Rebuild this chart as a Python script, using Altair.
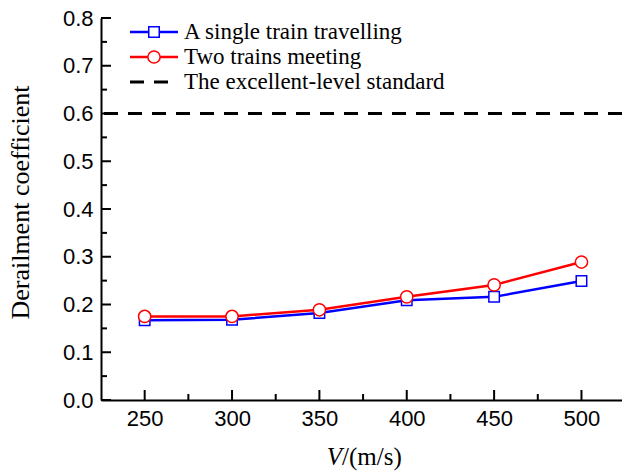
import altair as alt
import pandas as pd

# ---- data ----
speeds = [250, 300, 350, 400, 450, 500]
single_train = [0.167, 0.168, 0.182, 0.209, 0.216, 0.249]
two_trains = [0.175, 0.175, 0.189, 0.216, 0.241, 0.289]
standard_value = [0.6]
series_names = ["A single train travelling", "Two trains meeting", "The excellent-level standard"]
x_major = [250, 300, 350, 400, 450, 500]
x_minor = [275, 325, 375, 425, 475]
y_major = [0.0, 0.1, 0.2, 0.3, 0.4, 0.5, 0.6, 0.7, 0.8]
y_minor = [0.05, 0.15, 0.25, 0.35, 0.45, 0.55, 0.65, 0.75]

W, H = 521, 382
BLUE, RED = "#0000FF", "#FF0000"
SERIF, SANS = "Liberation Serif", "Liberation Sans"

xs = alt.Scale(domain=[225, 523.2], nice=False, zero=False)
ys = alt.Scale(domain=[0, 0.8], nice=False, zero=False)

xaxis = alt.Axis(values=x_major, ticks=False, tickSize=0, grid=False, domainColor="black",
                 domainWidth=2, labelFont=SANS, labelFontSize=22, labelColor="black",
                 labelPadding=8, labelFlush=False, labelOverlap=False, format="d", title=None)
yaxis = alt.Axis(values=y_major, ticks=False, tickSize=0, grid=False, domainColor="black",
                 domainWidth=2, labelFont=SANS, labelFontSize=22, labelColor="black",
                 labelPadding=8, labelFlush=False, labelOverlap=False, format=".1f",
                 title="Derailment coefficient", titleFont=SERIF, titleFontSize=26,
                 titleFontWeight="normal", titleColor="black", titleAngle=270,
                 titleX=-73, titleY=184, titleAlign="center", titleBaseline="alphabetic")

def X(field):
    return alt.X(field, type="quantitative", scale=xs, axis=xaxis)

def Y(field):
    return alt.Y(field, type="quantitative", scale=ys, axis=yaxis)

d_single = pd.DataFrame({"V": speeds, "coef": single_train})
d_two = pd.DataFrame({"V": speeds, "coef": two_trains})
d_std = pd.DataFrame({"coef": standard_value})

std_rule = alt.Chart(d_std).mark_rule(color="black", strokeWidth=3, strokeDash=[14, 10]).encode(
    y=Y("coef"))

line_single = alt.Chart(d_single).mark_line(color=BLUE, strokeWidth=2.5).encode(x=X("V"), y=Y("coef"))
pts_single = alt.Chart(d_single).mark_point(shape="square", filled=True, fill="white", stroke=BLUE,
                                            strokeWidth=1.5, size=110, opacity=1).encode(x=X("V"), y=Y("coef"))
line_two = alt.Chart(d_two).mark_line(color=RED, strokeWidth=2.5).encode(x=X("V"), y=Y("coef"))
pts_two = alt.Chart(d_two).mark_point(shape="circle", filled=True, fill="white", stroke=RED,
                                      strokeWidth=1.5, size=150, opacity=1).encode(x=X("V"), y=Y("coef"))

# inward ticks
xt_major = alt.Chart(pd.DataFrame({"V": x_major})).mark_rule(color="black", strokeWidth=2).encode(
    x=X("V"), y=alt.value(H), y2=alt.value(H - 10))
xt_minor = alt.Chart(pd.DataFrame({"V": x_minor})).mark_rule(color="black", strokeWidth=2).encode(
    x=X("V"), y=alt.value(H), y2=alt.value(H - 6))
yt_major = alt.Chart(pd.DataFrame({"coef": y_major})).mark_rule(color="black", strokeWidth=2).encode(
    y=Y("coef"), x=alt.value(0), x2=alt.value(10))
yt_minor = alt.Chart(pd.DataFrame({"coef": y_minor})).mark_rule(color="black", strokeWidth=2).encode(
    y=Y("coef"), x=alt.value(0), x2=alt.value(6))

# x title: italic V + "/(m/s)"
one = pd.DataFrame({"k": [0]})
xt_v = alt.Chart(one).mark_text(font=SERIF, fontSize=25, fontStyle="italic", align="right",
                                baseline="alphabetic", color="black").encode(
    x=alt.value(241), y=alt.value(447), text=alt.value("V"))
xt_rest = alt.Chart(one).mark_text(font=SERIF, fontSize=25, align="left",
                                   baseline="alphabetic", color="black").encode(
    x=alt.value(241), y=alt.value(447), text=alt.value("/(m/s)"))

# legend
rows = [14, 39, 64]
lg = []
lg.append(alt.Chart(one).mark_rule(color=BLUE, strokeWidth=2.5).encode(
    x=alt.value(29), x2=alt.value(77), y=alt.value(rows[0])))
lg.append(alt.Chart(one).mark_point(shape="square", filled=True, fill="white", stroke=BLUE,
                                    strokeWidth=1.5, size=110, opacity=1).encode(
    x=alt.value(53), y=alt.value(rows[0])))
lg.append(alt.Chart(one).mark_rule(color=RED, strokeWidth=2.5).encode(
    x=alt.value(29), x2=alt.value(77), y=alt.value(rows[1])))
lg.append(alt.Chart(one).mark_point(shape="circle", filled=True, fill="white", stroke=RED,
                                    strokeWidth=1.5, size=150, opacity=1).encode(
    x=alt.value(53), y=alt.value(rows[1])))
lg.append(alt.Chart(one).mark_rule(color="black", strokeWidth=3, strokeDash=[14, 10]).encode(
    x=alt.value(29), x2=alt.value(77), y=alt.value(rows[2])))
for name, ry in zip(series_names, rows):
    lg.append(alt.Chart(one).mark_text(font=SERIF, fontSize=23, align="left", baseline="middle",
                                       color="black").encode(
        x=alt.value(83), y=alt.value(ry), text=alt.value(name)))

chart = alt.layer(
    std_rule, xt_major, xt_minor, yt_major, yt_minor,
    line_single, pts_single, line_two, pts_two,
    xt_v, xt_rest, *lg
).properties(
    width=W, height=H,
    autosize=alt.AutoSizeParams(type="none"),
    padding={"left": 101, "top": 18, "right": 0, "bottom": 71},
    background="white",
).configure_view(stroke=None)

chart.save("out.html", embed_options={"renderer": "svg", "actions": False})
